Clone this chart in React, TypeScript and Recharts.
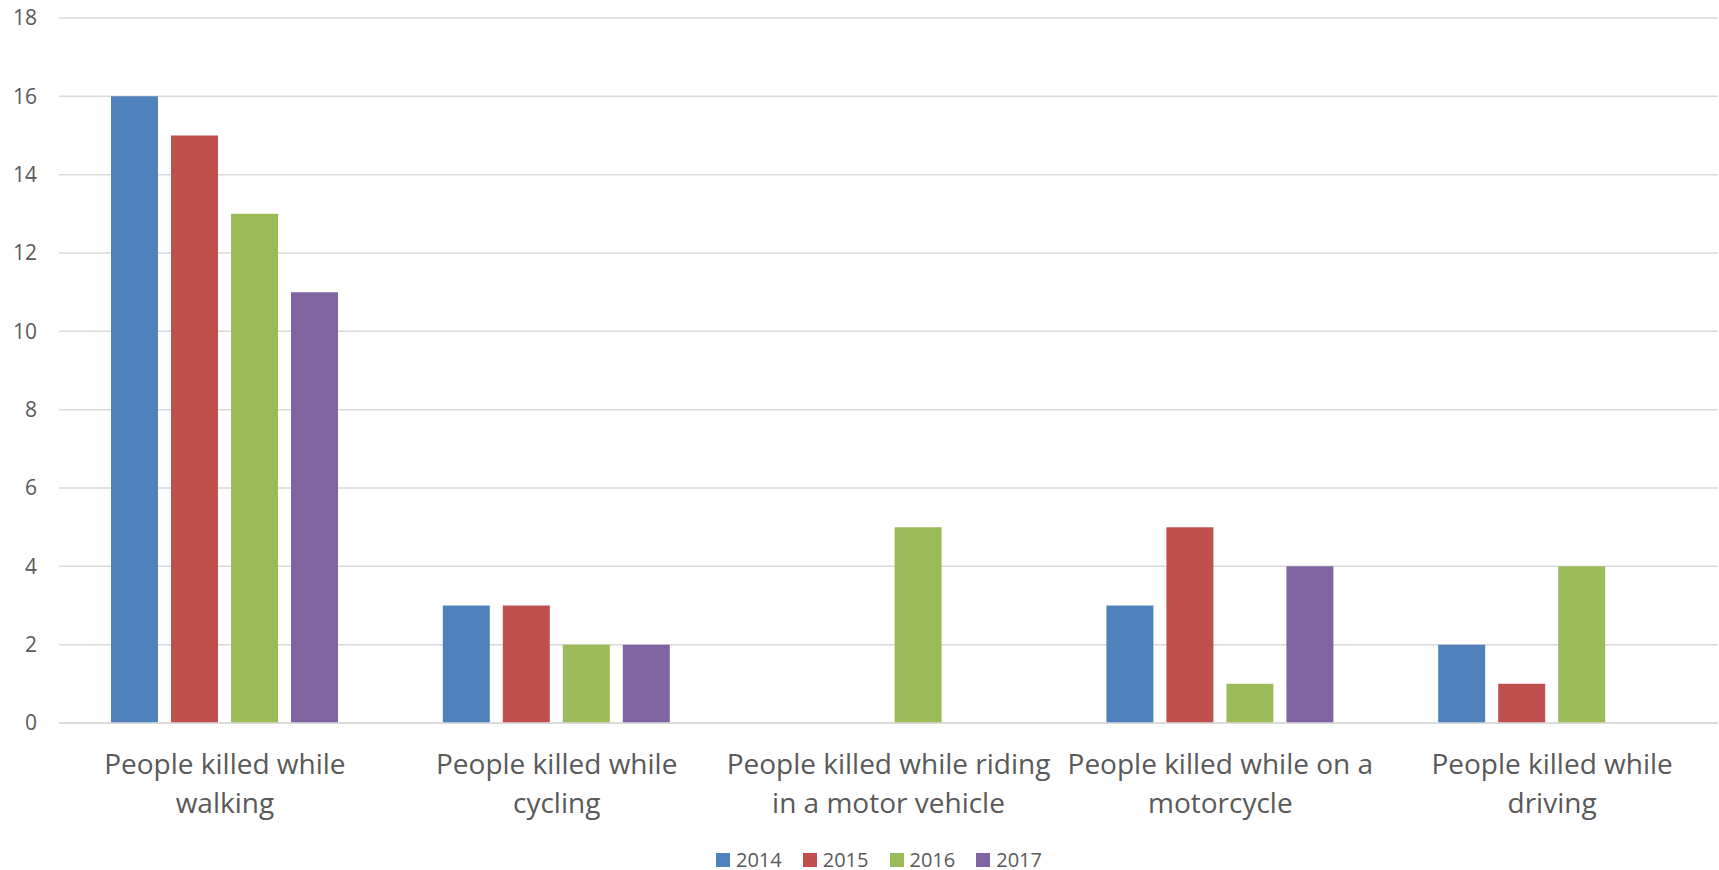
import React from "react";
import { BarChart, Bar, XAxis, YAxis, CartesianGrid, Legend } from "recharts";

const categories = [
  "People killed while\nwalking",
  "People killed while\ncycling",
  "People killed while riding\nin a motor vehicle",
  "People killed while on a\nmotorcycle",
  "People killed while\ndriving",
];
const series2014 = [16, 3, 0, 3, 2];
const series2015 = [15, 3, 0, 5, 1];
const series2016 = [13, 2, 5, 1, 4];
const series2017 = [11, 2, 0, 4, 0];
const seriesNames = ["2014", "2015", "2016", "2017"];
const seriesColors = ["#4F81BD", "#C0504D", "#9BBB59", "#8064A2"];
const yTicks = [0, 2, 4, 6, 8, 10, 12, 14, 16, 18];

const data = categories.map((c, i) => ({
  name: c,
  "2014": series2014[i],
  "2015": series2015[i],
  "2016": series2016[i],
  "2017": series2017[i],
}));

const FONT = "'Open Sans', 'Noto Sans', sans-serif";
const TEXT = "#595959";

const CategoryTick = (props: any) => {
  const { x, y, payload } = props;
  const lines = String(payload.value).split("\n");
  return (
    <text x={x} y={y} textAnchor="middle" fill={TEXT} fontSize={28} fontFamily={FONT}>
      {lines.map((l: string, i: number) => (
        <tspan key={i} x={x} dy={i === 0 ? 43 : 39}>
          {l}
        </tspan>
      ))}
    </text>
  );
};

const LegendContent = (props: any) => {
  const { payload } = props;
  return (
    <div
      style={{
        height: 20,
        display: "flex",
        justifyContent: "center",
        alignItems: "center",
        fontFamily: FONT,
        fontSize: 20,
        color: TEXT,
        paddingLeft: 40,
        overflow: "visible",
      }}
    >
      {(payload || []).map((p: any, i: number) => (
        <div key={i} style={{ display: "flex", alignItems: "center", marginRight: i < payload.length - 1 ? 21 : 0 }}>
          <div style={{ width: 14, height: 14, background: p.color, marginRight: 6 }} />
          <span style={{ lineHeight: "20px" }}>{p.value}</span>
        </div>
      ))}
    </div>
  );
};

export default function App() {
  return (
    <div style={{ position: "absolute", left: 0, top: 0, width: 1719, height: 870, background: "#fff" }}>
      <BarChart
        width={1719}
        height={870}
        data={data}
        margin={{ top: 18, right: 1, left: 0, bottom: 0 }}
        barCategoryGap={52}
        barGap={13}
      >
        <CartesianGrid vertical={false} stroke="#d9d9d9" strokeWidth={1.5} />
        <XAxis
          dataKey="name"
          height={127}
          axisLine={{ stroke: "#d9d9d9", strokeWidth: 1.5 }}
          tickLine={false}
          interval={0}
          tick={<CategoryTick />}
        />
        <YAxis
          width={59}
          domain={[0, 18]}
          ticks={yTicks}
          axisLine={false}
          tickLine={false}
          tickSize={6}
          tickMargin={16}
          tick={{ fill: TEXT, fontSize: 21, fontFamily: FONT }}
        />
        <Legend verticalAlign="bottom" content={<LegendContent />} />
        {seriesNames.map((s, i) => (
          <Bar key={s} dataKey={s} name={s} fill={seriesColors[i]} isAnimationActive={false} />
        ))}
      </BarChart>
    </div>
  );
}
